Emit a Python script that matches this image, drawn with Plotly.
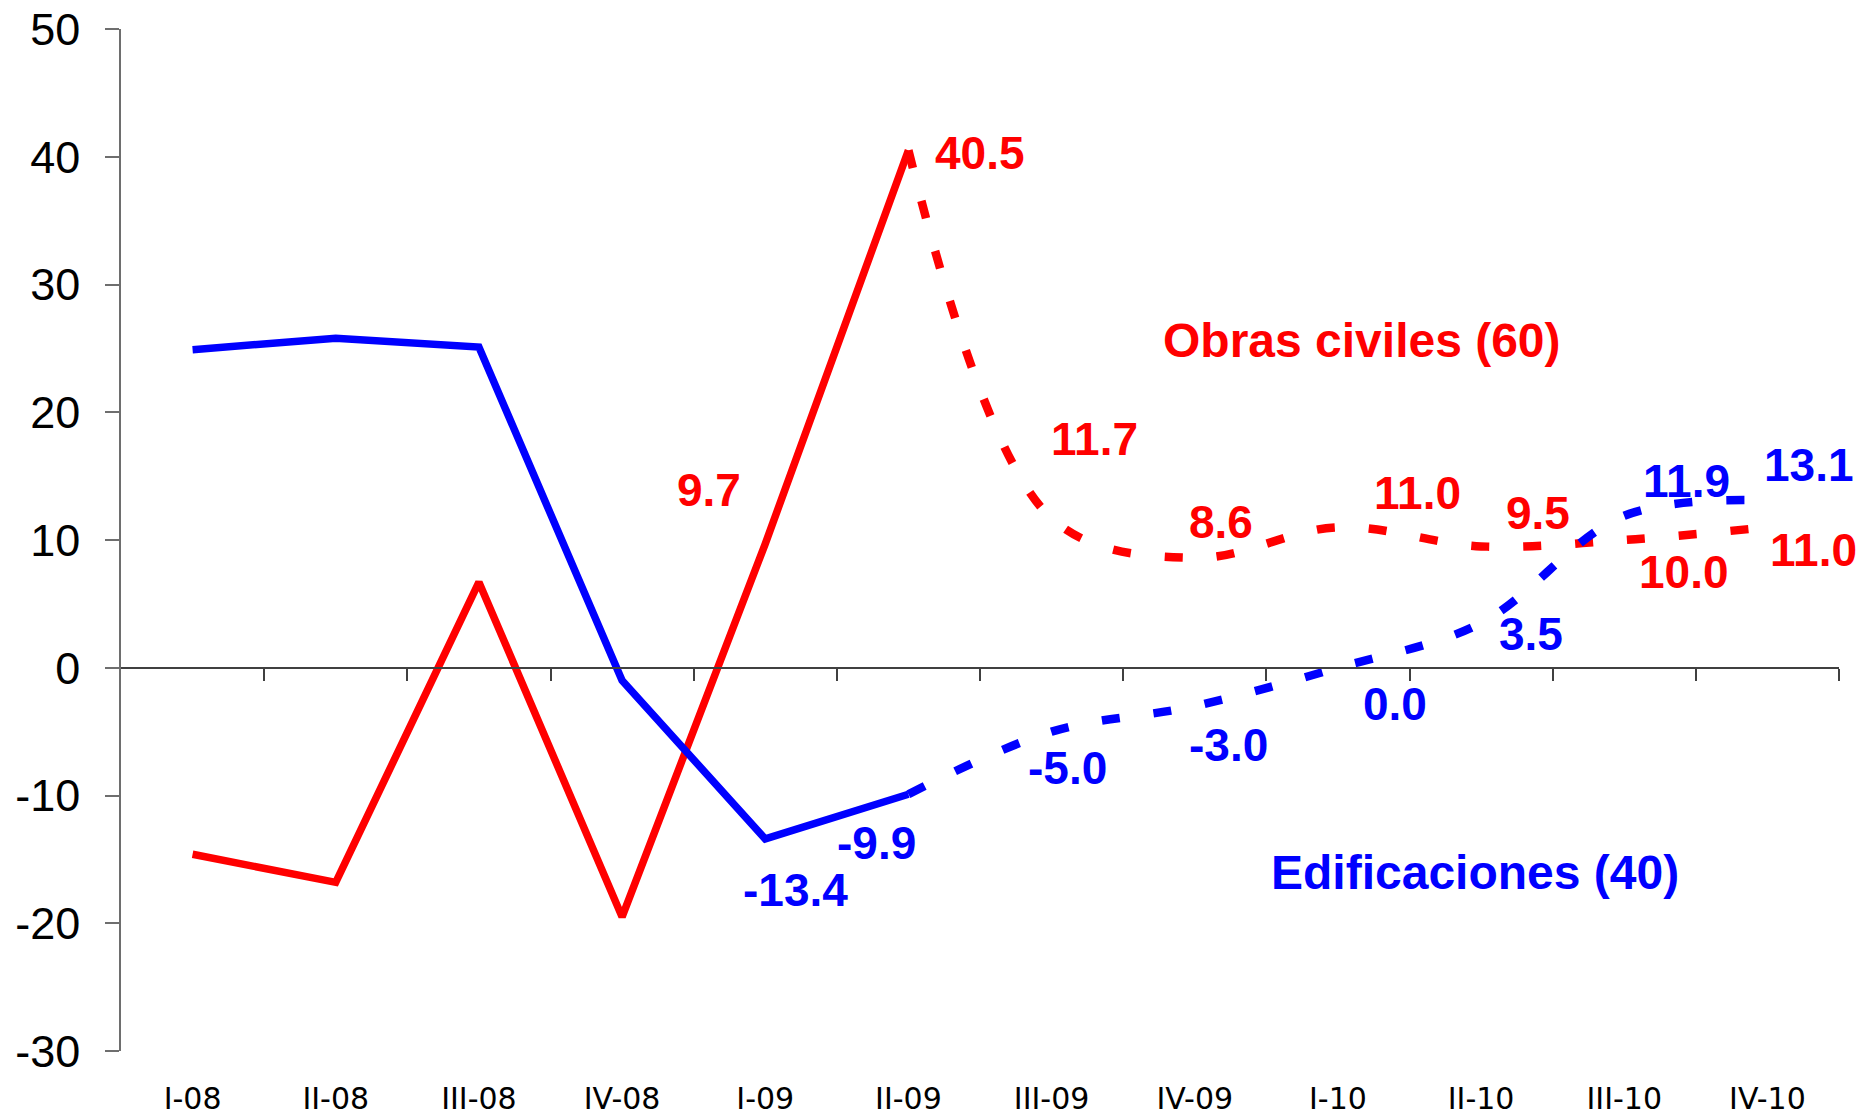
import plotly.graph_objects as go

# ---------------- data ----------------
quarters = ["I-08", "II-08", "III-08", "IV-08", "I-09", "II-09",
            "III-09", "IV-09", "I-10", "II-10", "III-10", "IV-10"]

# observed (solid) segments
obras_obs = [-14.6, -16.8, 6.7, -19.5, 9.7, 40.5]
edif_obs = [24.9, 25.8, 25.1, -1.0, -13.4, -9.9]

# projected (dashed) segments, starting at II-09
obras_proj = [40.5, 11.7, 8.6, 11.0, 9.5, 10.0, 11.0]
edif_proj = [-9.9, -5.0, -3.0, 0.0, 3.5, 11.9, 13.1]

y_tick_values = [-30, -20, -10, 0, 10, 20, 30, 40, 50]
y_tick_labels = ["-30", "-20", "-10", "0", "10", "20", "30", "40", "50"]

obs_q = quarters[:6]
proj_q = quarters[5:]

# labelled points (quarter indices)
obras_label_idx = [4, 5, 6, 7, 8, 9, 10, 11]
edif_label_idx = [4, 5, 6, 7, 8, 9, 10, 11]
all_obras = obras_obs[:5] + obras_proj
all_edif = edif_obs[:5] + edif_proj

# label pixel offsets (layout only)
obras_label_shift = [(-56, 54), (72, -3), (43, 79), (26, 36), (80, 34), (57, 33), (60, -32), (46, -23)]
edif_label_shift = [(30, -51), (-32, -49), (16, -36), (34, -39), (57, -36), (50, -11), (62, 35), (42, 35)]

RED = "#FF0000"
BLUE = "#0000FF"
AXIS_GRAY = "#6e6e6e"
LW = 7.5
DASH = "18px,34px"

fig = go.Figure()

fig.add_trace(go.Scatter(x=obs_q, y=obras_obs, mode="lines",
                         line=dict(color=RED, width=LW), showlegend=False, hoverinfo="skip"))
fig.add_trace(go.Scatter(x=obs_q, y=edif_obs, mode="lines",
                         line=dict(color=BLUE, width=LW), showlegend=False, hoverinfo="skip"))
fig.add_trace(go.Scatter(x=proj_q, y=obras_proj, mode="lines",
                         line=dict(color=RED, width=LW + 1, dash=DASH, shape="spline"),
                         showlegend=False, hoverinfo="skip"))
fig.add_trace(go.Scatter(x=proj_q, y=edif_proj, mode="lines",
                         line=dict(color=BLUE, width=LW + 1, dash=DASH, shape="spline"),
                         showlegend=False, hoverinfo="skip"))
# empty trace to activate the zero-line axis
fig.add_trace(go.Scatter(x=[], y=[], xaxis="x2", yaxis="y", showlegend=False, hoverinfo="skip"))

LABEL_FONT = dict(family="Liberation Sans, Arial, sans-serif", size=46)

annotations = []
for idx, (dx, dy) in zip(obras_label_idx, obras_label_shift):
    v = all_obras[idx]
    annotations.append(dict(x=quarters[idx], y=v, xref="x", yref="y", text=f"<b>{v:.1f}</b>",
                            showarrow=False, xshift=dx, yshift=dy,
                            font=dict(color=RED, **LABEL_FONT)))
for idx, (dx, dy) in zip(edif_label_idx, edif_label_shift):
    v = all_edif[idx]
    annotations.append(dict(x=quarters[idx], y=v, xref="x", yref="y", text=f"<b>{v:.1f}</b>",
                            showarrow=False, xshift=dx, yshift=dy,
                            font=dict(color=BLUE, **LABEL_FONT)))

annotations.append(dict(x=8.17, y=25.6, xref="x", yref="y", text="<b>Obras civiles (60)</b>",
                        showarrow=False, font=dict(color=RED, family=LABEL_FONT["family"], size=48)))
annotations.append(dict(x=8.955, y=-16.0, xref="x", yref="y", text="<b>Edificaciones (40)</b>",
                        showarrow=False, font=dict(color=BLUE, family=LABEL_FONT["family"], size=48)))

fig.update_layout(
    width=1862, height=1115,
    margin=dict(l=121, r=23, t=29, b=64, autoexpand=False),
    paper_bgcolor="white", plot_bgcolor="white",
    annotations=annotations,
    xaxis=dict(type="category", categoryorder="array", categoryarray=quarters,
               range=[-0.5, 11.5], showgrid=False, zeroline=False, showline=False,
               ticks="", tickfont=dict(family="DejaVu Sans", size=30, color="black"),
               ticklabelstandoff=27, automargin=False),
    xaxis2=dict(overlaying="x", anchor="free", position=0.375, range=[-0.5, 11.5],
                showgrid=False, zeroline=False, showline=True, linecolor="#404040", linewidth=1.5,
                ticks="outside", ticklen=12, tickwidth=1.5, tickcolor="#404040",
                tickvals=[i + 0.5 for i in range(12)], showticklabels=False, automargin=False),
    yaxis=dict(range=[-30, 50], tickvals=y_tick_values, ticktext=y_tick_labels,
               showgrid=False, zeroline=False,
               showline=True, linecolor=AXIS_GRAY, linewidth=1.5,
               ticks="outside", ticklen=14, tickwidth=1.5, tickcolor=AXIS_GRAY,
               tickfont=dict(family="Liberation Sans, Arial, sans-serif", size=45, color="black"),
               ticklabelstandoff=16, automargin=False),
)

fig.write_html("out.html", config={"displayModeBar": False},
               post_script="document.body.style.margin='0';document.body.style.overflow='hidden';")
